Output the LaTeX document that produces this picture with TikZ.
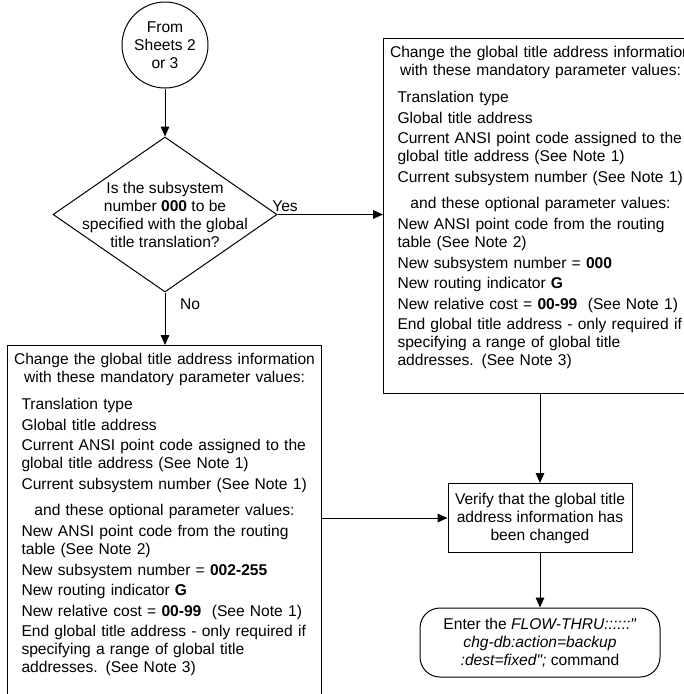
\documentclass[tikz,border=0pt]{standalone}
\usepackage{fontspec}
\setmainfont{Liberation Sans}
\usetikzlibrary{arrows.meta,positioning,shapes.geometric}

\newcommand{\dq}{\XeTeXglyph\XeTeXcharglyph"22\relax}
\newcommand{\ctrline}[1]{\hspace*{-6.75pt}\makebox[228pt][c]{#1}}
\newcommand{\paramtext}[1]{%
  \leftskip=6.75pt
  \ctrline{Change the global title address information}\\
  \ctrline{with these mandatory parameter values:}\\[6.75pt]
  Translation type\\[1.9pt]
  Global title address\\[1.9pt]
  Current ANSI point code assigned to the\\
  global title address (See Note 1)\\[1.9pt]
  Current subsystem number (See Note 1)\\[6.4pt]
  \ctrline{and these optional parameter values:}\\[1.9pt]
  New ANSI point code from the routing\\
  table (See Note 2)\\[1.9pt]
  New subsystem number = \textbf{#1}\\[1.9pt]
  New routing indicator \textbf{G}\\[1.9pt]
  New relative cost = \textbf{00-99}\ \ (See Note 1)\\[1.9pt]
  End global title address - only required if\\
  specifying a range of global title\\
  addresses. (See Note 3)\\[1.5pt]
  \mbox{}}

\begin{document}
\begin{tikzpicture}[x=0.75pt,y=-0.75pt,line width=0.75pt,
    every node/.style={font=\fontsize{11.7pt}{13.5pt}\selectfont},
    arr/.style={-{Triangle[length=7.5pt,width=6.5pt]}},
    terminal/.style={draw,circle,minimum size=64.5pt,inner sep=0pt,align=center},
    decision/.style={draw,diamond,minimum width=168pt,minimum height=116.25pt,inner sep=0pt},
    parambox/.style={draw,anchor=north west,text width=228pt,align=left,inner xsep=3.75pt,inner ysep=6pt},
    process/.style={draw,minimum width=138pt,minimum height=51.75pt,align=center},
    endbox/.style={draw,rounded corners=15pt,minimum width=180pt,minimum height=51.75pt,align=center}]
  \useasboundingbox (0,0) rectangle (684,694);

  \node[terminal] (start) at (165,45) {From\\Sheets 2\\or 3};
  \node[decision] (dec) at (165,214.5) {};
  \node[align=center] (dectxt) at (dec.center) {Is the subsystem\\number \textbf{000} to be\\specified with the global\\title translation?};
  \node[parambox] (rbox) at (383,38) {\paramtext{000}};
  \node[parambox] (lbox) at (7,345) {\paramtext{002-255}};
  \node[process] (verify) at (540,518) {Verify that the global title\\address information has\\been changed};
  \node[endbox] (finish) at (540,642.5) {Enter the \textit{FLOW-THRU::::::\dq}\\\textit{chg-db:action=backup}\\\textit{:dest=fixed\dq;} command};

  \node (yeslbl) at (285,206) {Yes};
  \node (nolbl) at (190,304) {No};

  \draw[arr] (start) -- (dec.north);
  \draw[arr] (dec.east) -- (dec.east -| rbox.west);
  \draw[arr] (dec.south) -- (dec.south |- lbox.north);
  \draw[arr] (rbox.south -| verify.north) -- (verify.north);
  \draw[arr] (lbox.east |- verify.west) -- (verify.west);
  \draw[arr] (verify) -- (finish);
\end{tikzpicture}
\end{document}
